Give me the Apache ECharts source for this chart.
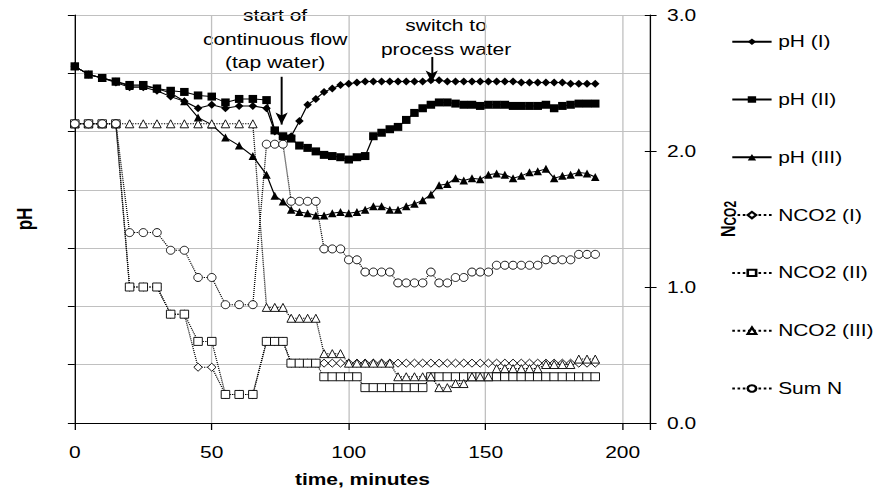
<!DOCTYPE html>
<html>
<head>
<meta charset="utf-8">
<script src="https://cdn.jsdelivr.net/npm/echarts@6/dist/echarts.min.js"></script>
<style>
  body { margin: 0; background: #fff; }
  #wrap { width: 875px; height: 496px; overflow: hidden; }
  /* the source picture is stretched sideways, so the chart is drawn narrower and widened */
  #chart { width: 668px; height: 496px; transform: scaleX(1.31); transform-origin: 0 0; }
</style>
</head>
<body>
<div id="wrap"><div id="chart"></div></div>
<script>
// sampling times, minutes
var time = [0, 5, 10, 15, 20, 25, 30, 35, 40, 45, 50, 55, 60, 65, 70,
  73, 76, 79, 82, 85, 88, 91, 94, 97, 100, 103, 106, 109, 112, 115, 118, 121, 124, 127,
  130, 133, 136, 139, 142, 145, 148, 151, 154, 157, 160, 163, 166, 169, 172, 175, 178,
  181, 184, 187, 190];

// pH, left axis (no printed labels in the source)
var phI = [8.06, 7.99, 7.96, 7.92, 7.88, 7.88, 7.85, 7.80, 7.76, 7.70, 7.73, 7.70, 7.72, 7.72, 7.70,
  7.50, 7.45, 7.46, 7.59, 7.73, 7.78, 7.84, 7.87, 7.90, 7.91, 7.92, 7.93, 7.93, 7.93, 7.93, 7.93, 7.93, 7.93, 7.93,
  7.94, 7.94, 7.93, 7.93, 7.93, 7.93, 7.93, 7.93, 7.93, 7.93, 7.93, 7.92, 7.92, 7.92, 7.92, 7.92, 7.92,
  7.91, 7.91, 7.91, 7.91];
var phII = [8.06, 7.99, 7.96, 7.93, 7.90, 7.90, 7.87, 7.85, 7.84, 7.81, 7.80, 7.75, 7.78, 7.78, 7.77,
  7.51, 7.46, 7.44, 7.38, 7.36, 7.33, 7.30, 7.29, 7.28, 7.26, 7.28, 7.29, 7.46, 7.49, 7.52, 7.54, 7.60, 7.66, 7.70,
  7.73, 7.75, 7.75, 7.74, 7.73, 7.73, 7.72, 7.73, 7.73, 7.73, 7.72, 7.72, 7.72, 7.72, 7.73, 7.70, 7.72,
  7.73, 7.74, 7.74, 7.74];
var phIII = [8.06, 7.99, 7.96, 7.93, 7.89, 7.89, 7.87, 7.83, 7.76, 7.62, 7.56, 7.45, 7.38, 7.29, 7.13,
  6.95, 6.90, 6.83, 6.81, 6.80, 6.78, 6.78, 6.80, 6.81, 6.80, 6.81, 6.83, 6.86, 6.86, 6.83, 6.83, 6.86, 6.88, 6.91,
  6.96, 7.04, 7.05, 7.10, 7.08, 7.10, 7.09, 7.13, 7.14, 7.13, 7.10, 7.12, 7.15, 7.16, 7.18, 7.10, 7.12,
  7.13, 7.15, 7.14, 7.11];

// N values, right axis
var nco2I = [2.2, 2.2, 2.2, 2.2, 1.0, 1.0, 1.0, 0.8, 0.8, 0.41, 0.41, 0.21, 0.21, 0.21, 0.60,
  0.60, 0.60, 0.44, 0.44, 0.44, 0.44, 0.44, 0.44, 0.44, 0.44, 0.44, 0.44, 0.44, 0.44, 0.44, 0.44, 0.44, 0.44, 0.44,
  0.44, 0.44, 0.44, 0.44, 0.44, 0.44, 0.44, 0.44, 0.44, 0.44, 0.44, 0.44, 0.44, 0.44, 0.44, 0.44, 0.44,
  0.44, 0.44, 0.44, 0.44];
var nco2II = [2.2, 2.2, 2.2, 2.2, 1.0, 1.0, 1.0, 0.8, 0.8, 0.6, 0.6, 0.21, 0.21, 0.21, 0.60,
  0.60, 0.60, 0.44, 0.44, 0.44, 0.44, 0.34, 0.34, 0.34, 0.34, 0.34, 0.26, 0.26, 0.26, 0.26, 0.26, 0.26, 0.26, 0.26,
  0.34, 0.34, 0.34, 0.34, 0.34, 0.34, 0.34, 0.34, 0.34, 0.34, 0.34, 0.34, 0.34, 0.34, 0.34, 0.34, 0.34,
  0.34, 0.34, 0.34, 0.34];
var nco2III = [2.2, 2.2, 2.2, 2.2, 2.2, 2.2, 2.2, 2.2, 2.2, 2.2, 2.2, 2.2, 2.2, 2.2, 0.85,
  0.85, 0.85, 0.77, 0.77, 0.77, 0.77, 0.51, 0.51, 0.51, 0.44, 0.44, 0.44, 0.44, 0.44, 0.44, 0.34, 0.34, 0.34, 0.34,
  0.34, 0.26, 0.26, 0.29, 0.29, 0.34, 0.34, 0.34, 0.40, 0.40, 0.40, 0.40, 0.40, 0.40, 0.43, 0.43, 0.43,
  0.43, 0.47, 0.47, 0.47];
var sumN = [2.2, 2.2, 2.2, 2.2, 1.40, 1.40, 1.40, 1.27, 1.27, 1.07, 1.07, 0.87, 0.87, 0.87, 2.05,
  2.05, 2.05, 1.63, 1.63, 1.63, 1.63, 1.28, 1.28, 1.28, 1.20, 1.20, 1.11, 1.11, 1.11, 1.11, 1.03, 1.03, 1.03, 1.03,
  1.11, 1.03, 1.03, 1.07, 1.07, 1.11, 1.11, 1.11, 1.16, 1.16, 1.16, 1.16, 1.16, 1.16, 1.20, 1.20, 1.20,
  1.20, 1.24, 1.24, 1.24];

var font = '"Liberation Sans", Arial, sans-serif';

function pairs(vals) {
  return time.map(function (t, i) { return [t, vals[i]]; });
}

function phSeries(name, vals, symbol) {
  return {
    name: name, type: 'line', yAxisIndex: 0, data: pairs(vals),
    symbol: symbol, symbolSize: [6.5, 8],
    lineStyle: { color: '#000', width: 1 },
    itemStyle: { color: '#000' }
  };
}

function nSeries(name, vals, symbol) {
  return {
    name: name, type: 'line', yAxisIndex: 1, data: pairs(vals),
    symbol: symbol, symbolSize: [6.5, 8],
    lineStyle: { color: '#000', width: 1, type: 'dotted' },
    itemStyle: { color: '#fff', borderColor: '#000', borderWidth: 0.8 }
  };
}

var chart = echarts.init(document.getElementById('chart'), null, { renderer: 'svg', width: 668, height: 496 });

var series = [
  phSeries('pH (I)', phI, 'diamond'),
  phSeries('pH (II)', phII, 'rect'),
  phSeries('pH (III)', phIII, 'triangle'),
  nSeries('NCO2 (I)', nco2I, 'diamond'),
  nSeries('NCO2 (II)', nco2II, 'rect'),
  nSeries('NCO2 (III)', nco2III, 'triangle'),
  nSeries('Sum N', sumN, 'circle')
];

// arrows for the two events
series[0].markLine = {
  silent: true,
  symbol: ['none', 'arrow'],
  symbolSize: [7, 12],
  label: { show: false },
  lineStyle: { color: '#000', width: 1.5, type: 'solid' },
  data: [
    [{ coord: [75.5, 7.97] }, { coord: [75.5, 7.56] }],
    [{ coord: [130.3, 8.14] }, { coord: [130.3, 7.92] }]
  ]
};

var option = {
  animation: false,
  textStyle: { fontFamily: font, color: '#000' },
  grid: { left: 57.1, right: 171.8, top: 15, bottom: 73, outerBoundsMode: 'none' },
  legend: {
    orient: 'vertical', left: 553, top: 28.7,
    itemWidth: 30, itemHeight: 8, itemGap: 41.8,
    textStyle: { fontFamily: font, fontSize: 16, lineHeight: 16, color: '#000' },
    selectedMode: false
  },
  xAxis: {
    type: 'value', min: 0, max: 210, interval: 50,
    name: 'time, minutes', nameLocation: 'middle', nameGap: 48,
    nameTextStyle: { fontFamily: font, fontSize: 16, fontWeight: 'bold', color: '#000' },
    axisLine: { show: true, onZero: false, lineStyle: { color: '#000', width: 1 } },
    axisTick: { show: true, length: 7, lineStyle: { color: '#000' } },
    axisLabel: {
      margin: 21, fontSize: 16, color: '#000', fontFamily: font,
      formatter: function (v) { return v % 50 === 0 ? String(v) : ''; }
    },
    splitLine: { show: true, lineStyle: { color: '#c0c0c0', width: 1 } }
  },
  yAxis: [
    {
      type: 'value', min: 5, max: 8.5, interval: 0.5, position: 'left',
      name: 'pH', nameLocation: 'middle', nameGap: 30,
      nameTextStyle: { fontFamily: font, fontSize: 17, fontWeight: 'bold', color: '#000' },
      axisLine: { show: true, lineStyle: { color: '#000', width: 1 } },
      axisTick: { show: true, length: 5.3, lineStyle: { color: '#000' } },
      axisLabel: { show: false },
      splitLine: { show: true, lineStyle: { color: '#c0c0c0', width: 1 } }
    },
    {
      type: 'value', min: 0, max: 3, interval: 1, position: 'right',
      name: '{n|N}{s|CO2}', nameLocation: 'middle', nameGap: 51,
      nameTextStyle: {
        rich: {
          n: { fontFamily: font, fontSize: 16, fontWeight: 'bold', color: '#000', lineHeight: 16, verticalAlign: 'top' },
          s: { fontFamily: font, fontSize: 12, fontWeight: 'bold', color: '#000', lineHeight: 12, verticalAlign: 'bottom', padding: [8, 0, 0, 0] }
        }
      },
      axisLine: { show: true, lineStyle: { color: '#000', width: 1 } },
      axisTick: { show: true, length: 5, lineStyle: { color: '#000' } },
      axisLabel: {
        margin: 13, fontSize: 16, color: '#000', fontFamily: font,
        formatter: function (v) { return v.toFixed(1); }
      },
      splitLine: { show: false }
    },
    {
      // inner half of the crossing ticks on the right axis
      type: 'value', min: 0, max: 3, interval: 1, position: 'right',
      axisLine: { show: false },
      axisTick: { show: true, inside: true, length: 4, lineStyle: { color: '#000' } },
      axisLabel: { show: false },
      splitLine: { show: false }
    }
  ],
  graphic: [
    {
      type: 'text', x: 210, y: 4, silent: true,
      style: {
        text: 'start of\ncontinuous flow\n(tap water)',
        font: '16px ' + font, fill: '#000', align: 'center', verticalAlign: 'top', lineHeight: 23.5
      }
    },
    {
      type: 'text', x: 340.5, y: 13, silent: true,
      style: {
        text: 'switch to\nprocess water',
        font: '16px ' + font, fill: '#000', align: 'center', verticalAlign: 'top', lineHeight: 24
      }
    }
  ],
  series: series
};

chart.setOption(option);
</script>
</body>
</html>
